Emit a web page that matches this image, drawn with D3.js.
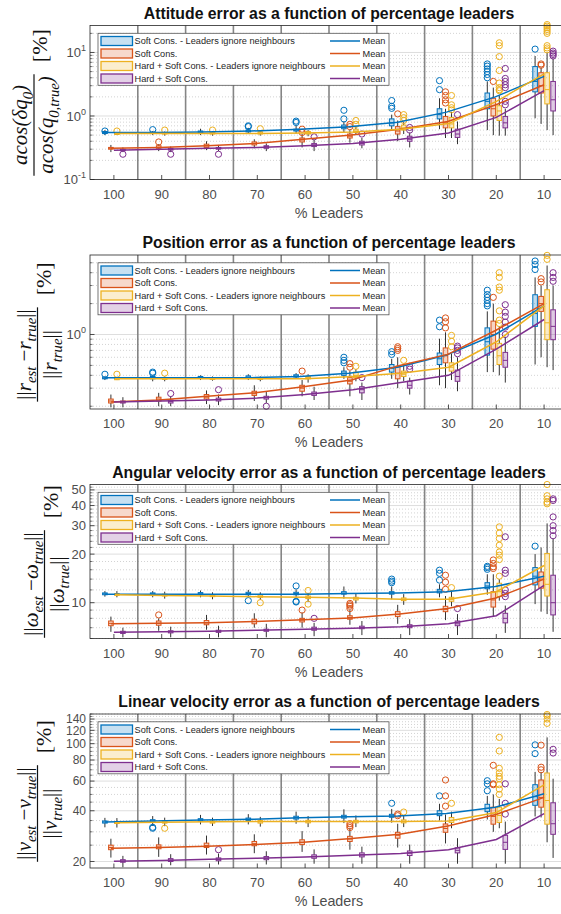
<!DOCTYPE html>
<html>
<head>
<meta charset="utf-8">
<script src="https://d3js.org/d3.v7.min.js"></script>
<style>
  html, body { margin:0; padding:0; background:#fff; overflow:hidden; }
  svg { display:block; }
</style>
</head>
<body>
<svg id="chart" width="561" height="914"></svg>
<script>
// ================= DATA =================
const categories = ["100","90","80","70","60","50","40","30","20","10"];
const seriesNames = [
  "Soft Cons. - Leaders ignore neighbours",
  "Soft Cons.",
  "Hard + Soft Cons. - Leaders ignore neighbours",
  "Hard + Soft Cons."
];
const seriesColors = ["#0072BD", "#D95319", "#EDB120", "#7E2F8E"];
const panelTitles = [
  "Attitude error as a function of percentage leaders",
  "Position error as a function of percentage leaders",
  "Angular velocity error as a function of percentage leaders",
  "Linear velocity error as a function of percentage leaders"
];
const xAxisLabel = "% Leaders";
const meanLabel = "Mean";

// ---- Panel 1 : attitude ----
const attDomain = [0.1, 26.6];
const attTicks = [0.1, 1, 10];
const attTickLabels = ["10^-1", "10^0", "10^1"];
const attMinor = [0.2,0.3,0.4,0.5,0.6,0.7,0.8,0.9,2,3,4,5,6,7,8,9,20];
const attMed = [
  [0.55,0.55,0.56,0.58,0.60,0.66,0.78,1.05,1.70,3.5],
  [0.31,0.32,0.34,0.37,0.42,0.48,0.58,0.78,1.30,3.0],
  [0.53,0.53,0.54,0.54,0.54,0.58,0.65,0.75,1.20,2.6],
  [0.29,0.30,0.31,0.33,0.35,0.37,0.43,0.52,0.78,1.8]];
const attQ1 = [
  [0.53,0.53,0.54,0.56,0.58,0.63,0.70,0.90,1.30,2.4],
  [0.30,0.31,0.32,0.35,0.39,0.45,0.52,0.65,1.00,2.3],
  [0.52,0.52,0.52,0.52,0.52,0.55,0.60,0.65,0.85,1.55],
  [0.285,0.29,0.30,0.31,0.33,0.35,0.40,0.46,0.65,1.2]];
const attQ3 = [
  [0.57,0.56,0.58,0.60,0.62,0.72,0.90,1.30,2.30,6.0],
  [0.32,0.34,0.36,0.39,0.45,0.52,0.68,0.98,1.90,4.8],
  [0.54,0.55,0.55,0.56,0.57,0.62,0.72,0.95,1.45,4.8],
  [0.30,0.31,0.32,0.34,0.37,0.40,0.48,0.62,0.98,3.5]];
const attLo = [
  [0.50,0.50,0.50,0.52,0.53,0.55,0.60,0.62,0.60,0.92],
  [0.27,0.28,0.29,0.31,0.32,0.38,0.40,0.45,0.50,0.75],
  [0.50,0.49,0.49,0.49,0.48,0.50,0.52,0.45,0.49,0.60],
  [0.27,0.27,0.28,0.28,0.28,0.31,0.32,0.36,0.49,0.50]];
const attHi = [
  [0.60,0.58,0.63,0.65,0.70,0.82,1.05,1.90,3.50,8.8],
  [0.35,0.36,0.40,0.43,0.52,0.60,0.85,1.30,2.80,5.8],
  [0.56,0.57,0.58,0.60,0.60,0.70,0.80,1.15,2.10,10],
  [0.32,0.33,0.35,0.37,0.42,0.45,0.55,0.82,1.30,8.0]];
const attMean = [
  [0.55,0.55,0.56,0.58,0.62,0.68,0.80,1.15,2.0,4.2],
  [0.31,0.32,0.34,0.37,0.43,0.50,0.62,0.82,1.5,3.1],
  [0.53,0.53,0.53,0.53,0.54,0.56,0.62,0.76,1.7,4.6],
  [0.29,0.30,0.31,0.32,0.34,0.37,0.43,0.54,0.95,2.5]];
const attOut = [
  [[0.58],[0.61],[],[0.68,0.70],[0.79,0.83],[0.90,1.23],[1.32,1.42,1.75],[2.6,3.6],[4.0,4.5,5.0,5.5,6.1,6.6],[11.3]],
  [[],[0.39],[],[],[0.55,0.62],[0.68,0.74],[1.08],[1.6,1.8,2.1,2.4],[3.5],[6.3,6.6]],
  [[0.58],[0.60],[0.60],[0.63],[],[0.74,0.85],[0.85,0.94,1.05],[1.25,1.35,1.5,2.1],[2.5,2.6,2.8,3.3,5.2,8.6,12.8,14.2],[11,11.8,12.8,20,21.5,23,24.5,26,27.5]],
  [[0.25],[0.25],[0.25],[],[0.47],[0.52],[0.60,0.66],[1.05],[1.5,1.7,2.8,3.1,3.5,3.9,5.6],[8.8,9.3,9.8,10.5]]];

// ---- Panel 2 : position ----
const posDomain = [0.188, 5.95];
const posTicks = [1];
const posTickLabels = ["10^0"];
const posMinor = [0.2,0.3,0.4,0.5,0.6,0.7,0.8,0.9,2,3,4,5];
const posMed = [
  [0.375,0.38,0.38,0.385,0.395,0.42,0.47,0.58,0.85,1.6],
  [0.225,0.235,0.245,0.265,0.30,0.35,0.42,0.62,1.0,2.0],
  [0.37,0.37,0.372,0.372,0.38,0.40,0.41,0.48,0.62,1.3],
  [0.22,0.222,0.232,0.242,0.265,0.29,0.32,0.39,0.56,1.2]];
const posQ1 = [
  [0.37,0.37,0.375,0.375,0.385,0.40,0.43,0.51,0.63,1.2],
  [0.215,0.225,0.235,0.255,0.28,0.33,0.37,0.53,0.72,1.68],
  [0.365,0.365,0.365,0.365,0.37,0.38,0.39,0.44,0.51,0.89],
  [0.215,0.215,0.225,0.235,0.255,0.27,0.30,0.35,0.48,0.89]];
const posQ3 = [
  [0.385,0.39,0.39,0.395,0.405,0.44,0.51,0.66,1.16,2.44],
  [0.235,0.245,0.26,0.28,0.32,0.38,0.49,0.74,1.35,2.35],
  [0.375,0.38,0.38,0.38,0.39,0.43,0.44,0.53,0.82,2.73],
  [0.225,0.23,0.24,0.25,0.275,0.31,0.35,0.45,0.67,1.74]];
const posLo = [
  [0.36,0.35,0.36,0.36,0.37,0.37,0.37,0.32,0.43,0.51],
  [0.195,0.20,0.21,0.225,0.25,0.25,0.30,0.30,0.43,0.60],
  [0.36,0.35,0.355,0.35,0.34,0.35,0.35,0.36,0.40,0.48],
  [0.195,0.20,0.205,0.215,0.23,0.23,0.26,0.28,0.34,0.45]];
const posHi = [
  [0.39,0.40,0.40,0.41,0.42,0.48,0.58,0.91,1.68,3.6],
  [0.26,0.27,0.285,0.32,0.36,0.44,0.60,1.05,2.0,3.0],
  [0.385,0.39,0.39,0.39,0.41,0.46,0.50,0.65,1.2,4.7],
  [0.245,0.25,0.26,0.275,0.31,0.34,0.38,0.60,0.95,3.0]];
const posMean = [
  [0.38,0.38,0.38,0.38,0.39,0.42,0.48,0.63,1.0,1.9],
  [0.22,0.23,0.25,0.27,0.31,0.36,0.50,0.64,1.1,2.0],
  [0.37,0.37,0.37,0.37,0.37,0.39,0.42,0.48,0.85,1.9],
  [0.22,0.225,0.23,0.24,0.26,0.29,0.34,0.40,0.72,1.4]];
const posOut = [
  [[0.41],[0.42,0.43],[],[],[],[0.53,0.56,0.60],[0.64,0.68],[1.19,1.38],[1.9,2.0,2.15,2.3,2.45,2.7],[4.3,4.8,5.2]],
  [[],[],[],[],[0.44],[0.48,0.52],[0.70,0.73,0.76],[1.16,1.33,1.45],[2.3],[3.25,3.5]],
  [[0.41],[0.42],[],[],[],[0.49],[0.56],[0.76,0.86,0.98],[1.28,1.38,1.7,2.7,2.9,3.6,4.0],[5.4,5.9]],
  [[],[0.266],[0.29],[0.20],[],[0.38],[0.46,0.49],[0.65,0.70,0.74,0.77],[1.0,1.18,1.32,1.5,1.65,1.95],[3.3,3.6,4.0]]];

// ---- Panel 3 : angular velocity ----
const angDomain = [6, 54];
const angTicks = [10, 20, 30, 40, 50];
const angTickLabels = ["10", "20", "30", "40", "50"];
const angMinor = [6,7,8,9,12,14,16,18,22,24,26,28,32,34,36,38,42,44,46,48,52];
const angMed = [
  [11.35,11.35,11.35,11.4,11.4,11.45,11.5,11.8,12.7,14.6],
  [7.45,7.45,7.5,7.65,7.8,8.1,8.45,9.1,10.4,14.0],
  [11.25,11.15,11.05,11.0,10.8,10.6,10.5,10.5,11.7,13.0],
  [6.55,6.6,6.65,6.75,6.9,7.0,7.15,7.4,8.0,10.0]];
const angQ1 = [
  [11.2,11.2,11.2,11.2,11.2,11.3,11.3,11.5,12.2,12.9],
  [7.2,7.25,7.3,7.4,7.6,7.9,8.2,8.8,9.4,12.3],
  [11.1,11.0,10.9,10.8,10.6,10.4,10.3,10.2,10.9,11.0],
  [6.45,6.5,6.55,6.65,6.75,6.9,7.0,7.2,7.5,8.4]];
const angQ3 = [
  [11.5,11.5,11.55,11.6,11.6,11.7,11.7,12.1,13.3,16.5],
  [7.7,7.7,7.75,7.9,8.0,8.3,8.8,9.5,11.7,15.5],
  [11.4,11.3,11.2,11.2,11.0,10.8,10.7,10.8,13.2,20.2],
  [6.65,6.7,6.75,6.85,7.05,7.15,7.3,7.7,8.6,14.8]];
const angLo = [
  [10.9,10.8,10.8,10.8,10.6,10.6,10.5,10.8,11.2,9.8],
  [6.6,6.7,6.8,7.0,7.0,7.3,7.4,7.8,8.2,8.8],
  [10.8,10.6,10.5,10.4,10.1,9.9,9.7,9.5,10.3,8.5],
  [6.1,6.1,6.1,6.1,6.2,6.3,6.3,6.3,6.5,6.6]];
const angHi = [
  [11.8,11.8,11.9,12.0,12.1,12.6,12.6,13.0,15.0,20.0],
  [8.2,8.0,8.4,8.6,8.7,9.0,9.7,11.0,15.0,22.0],
  [11.8,11.7,11.6,11.6,11.5,11.4,11.3,11.9,14.0,31.0],
  [7.0,7.1,7.2,7.4,7.5,7.7,7.9,8.5,9.6,25.0]];
const angMean = [
  [11.3,11.3,11.3,11.3,11.3,11.4,11.5,11.7,12.6,14.6],
  [7.4,7.45,7.5,7.65,7.85,8.05,8.5,9.2,10.7,14.0],
  [11.2,11.1,11.0,10.9,10.8,10.7,10.5,10.5,11.7,17.0],
  [6.55,6.6,6.65,6.75,6.85,6.95,7.1,7.4,8.3,12.8]];
const angOut = [
  [[],[],[],[10.3],[10.1,10.2,12.7],[],[13.3,13.6,14.0],[13.8,15.2,15.9],[16.1,16.5,16.8],[22.4]],
  [[],[8.4],[],[],[9.0],[9.2,9.5,9.7,9.9],[],[12.1,13.4,14.8],[16.3,16.7,17.5,18.4],[]],
  [[],[],[],[10.0],[9.8,11.9],[],[],[12.4],[14.6,18.5,19.7,20.6,22.7,25,27,29.5],[41,42,44,46,54]],
  [[],[],[],[],[8.0],[],[],[9.2],[10.9,11.4,12,15.2,15.9,25.6],[26,28,30,34,43,44]]];

// ---- Panel 4 : linear velocity ----
const linDomain = [18.3, 150];
const linTicks = [20, 40, 60, 80, 100, 120, 140];
const linTickLabels = ["20", "40", "60", "80", "100", "120", "140"];
const linMinor = [25,30,35,45,50,55,65,70,75,85,90,95,105,110,115,125,130,135,145,150];
const linMed = [
  [34.3,34.8,35.3,35.6,36.4,36.9,37.3,38.5,41.3,48.5],
  [24.2,24.4,24.9,25.5,26.0,27.2,28.6,31.4,37.0,48.0],
  [34.0,34.2,34.3,34.4,34.5,34.5,34.6,35.0,37.5,46.0],
  [20.1,20.4,20.6,20.9,21.4,21.9,22.4,23.3,26.0,33.5]];
const linQ1 = [
  [33.8,34.2,34.8,35.0,35.7,36.2,36.6,37.4,39.5,43.1],
  [23.5,23.8,24.2,24.8,25.2,26.3,27.5,29.8,33.3,42.0],
  [33.6,33.8,33.8,33.8,33.9,33.9,33.9,34.1,34.1,33.3],
  [19.8,20.0,20.2,20.5,20.9,21.3,21.7,22.5,23.6,29.0]];
const linQ3 = [
  [34.8,35.4,35.9,36.2,37.1,37.6,38.1,40.0,43.7,57.1],
  [25.0,25.1,25.7,26.3,26.9,28.2,29.8,33.4,42.0,60.9],
  [34.5,34.7,34.8,35.0,35.1,35.1,35.3,36.5,42.0,67.0],
  [20.5,20.8,21.0,21.4,21.9,22.5,23.1,24.1,28.6,44.6]];
const linLo = [
  [31.9,32.5,33.2,33.2,33.5,33.8,34.0,35.0,35.5,37.0],
  [21.1,21.3,22.0,22.4,22.8,23.5,24.2,25.6,30.0,36.5],
  [31.8,32.4,32.5,32.2,32.0,32.0,32.0,31.5,31.5,26.0],
  [18.5,19.0,19.2,19.2,19.4,19.4,19.4,19.4,19.4,21.0]];
const linHi = [
  [36.3,37.2,37.8,38.2,39.5,40.8,41.0,44.0,49.0,68.0],
  [27.3,27.8,28.5,29.0,30.3,31.5,33.5,38.0,50.0,68.0],
  [36.2,36.4,36.4,36.8,37.2,37.5,37.6,39.5,47.0,109.0],
  [21.6,22.1,22.3,23.0,23.6,24.5,25.2,27.5,34.5,62.0]];
const linMean = [
  [34.3,34.8,35.2,35.6,36.3,36.8,37.2,38.5,42.0,50.5],
  [24.0,24.2,24.6,25.2,26.0,27.4,29.0,32.5,38.0,48.0],
  [34.0,34.2,34.4,34.5,34.5,34.5,34.5,34.8,39.0,57.0],
  [20.1,20.3,20.6,20.9,21.3,21.8,22.3,23.5,27.0,38.5]];
const linOut = [
  [[],[31.5,31.9],[],[],[],[],[44.3],[49.0],[52.6,57.8,60.3],[87.3,98.4]],
  [[],[],[],[],[],[31.8,32.6,33.5],[37.4,38.2],[42.6,49,60.9],[57.1,57.8,74.4],[70,72.5,98]],
  [[],[31.5],[],[],[],[],[39.3],[44.3],[50,53.8,57.1,61.9,64,67.1,71.4,90.5,109],[132,140,146,149]],
  [[],[],[23.5],[],[],[],[],[],[38.2,44.3,57.8],[88.0,92.6]]];

// y-label parts: [text, kind]  kind: "i" italic, "s" subscript italic, "u" upright
const yNum = [
  [["acos(","i"],["δ","i"],["q","i"],["0","s"],[")","i"]],
  [["||","u"],["r","i"],["est","s"],[" −","u"],["r","i"],["true","s"],["||","u"]],
  [["||","u"],["ω","i"],["est","s"],[" −","u"],["ω","i"],["true","s"],["||","u"]],
  [["||","u"],["v","i"],["est","s"],[" −","u"],["v","i"],["true","s"],["||","u"]]];
const yDen = [
  [["acos(","i"],["q","i"],["0,true","s"],[")","i"]],
  [["||","u"],["r","i"],["true","s"],["||","u"]],
  [["||","u"],["ω","i"],["true","s"],["||","u"]],
  [["||","u"],["v","i"],["true","s"],["||","u"]]];
const yUnit = "[%]";

// ================= LAYOUT / STYLE =================
const FONT = "'Liberation Sans', Arial, Helvetica, sans-serif";
const SERIF = "'Liberation Serif', 'Times New Roman', serif";
const AX_COL = "#262626";
const panelTops = [25.5, 255, 484.5, 714];
const plotH = 154;
const plotL = 90, plotR = 568;
const seriesOffset = [-9, -3, 3, 9];
const meanStartOffset = [-9, -3, 1, 0];
const boxW = 4.6;
const yLabelX = [34, 37.5, 44.5, 37.5];
const yTickFont = [13, 13, 13, 12];

const panels = [
  {domain: attDomain, ticks: attTicks, labels: attTickLabels, minor: attMinor, med: attMed, q1: attQ1, q3: attQ3, lo: attLo, hi: attHi, mean: attMean, out: attOut},
  {domain: posDomain, ticks: posTicks, labels: posTickLabels, minor: posMinor, med: posMed, q1: posQ1, q3: posQ3, lo: posLo, hi: posHi, mean: posMean, out: posOut},
  {domain: angDomain, ticks: angTicks, labels: angTickLabels, minor: angMinor, med: angMed, q1: angQ1, q3: angQ3, lo: angLo, hi: angHi, mean: angMean, out: angOut},
  {domain: linDomain, ticks: linTicks, labels: linTickLabels, minor: linMinor, med: linMed, q1: linQ1, q3: linQ3, lo: linLo, hi: linHi, mean: linMean, out: linOut}
];

const svg = d3.select("#chart");
const x = d3.scaleLinear().domain([0.5, 10.5]).range([plotL, plotR]);
const catIdx = d3.range(1, categories.length + 1);

function addRich(textSel, parts, size) {
  let shift = 0;
  parts.forEach(([s, kind]) => {
    const target = kind === "s" ? size * 0.28 : 0;
    const t = textSel.append("tspan").text(s).attr("dy", target - shift);
    shift = target;
    if (kind === "s") t.attr("font-size", size * 0.7).attr("font-style", "italic");
    else if (kind === "u") t.attr("font-style", "normal");
    else t.attr("font-style", "italic");
  });
}

panels.forEach((p, pi) => {
  const top = panelTops[pi], bot = top + plotH;
  const y = d3.scaleLog().domain(p.domain).range([bot, top]);
  const g = svg.append("g");

  // grid: minor (dotted) then major (solid)
  g.append("g").selectAll("line").data(p.minor).join("line")
    .attr("x1", plotL).attr("x2", plotR)
    .attr("y1", d => y(d)).attr("y2", d => y(d))
    .attr("stroke", "#c8c8c8").attr("stroke-width", 0.8).attr("stroke-dasharray", "1,2");
  g.append("g").selectAll("line").data(p.ticks).join("line")
    .attr("x1", plotL).attr("x2", plotR)
    .attr("y1", d => y(d)).attr("y2", d => y(d))
    .attr("stroke", "#dedede").attr("stroke-width", 1);

  // group separators
  g.append("g").selectAll("line").data(catIdx.slice(0, -1)).join("line")
    .attr("x1", d => x(d + 0.5)).attr("x2", d => x(d + 0.5))
    .attr("y1", top).attr("y2", bot)
    .attr("stroke", "#858585").attr("stroke-width", 1.6);

  // boxes
  seriesColors.forEach((col, s) => {
    const sg = g.append("g");
    catIdx.forEach((c, i) => {
      const cx = x(c) + seriesOffset[s];
      sg.append("line").attr("x1", cx).attr("x2", cx)
        .attr("y1", y(p.hi[s][i])).attr("y2", y(p.q3[s][i]))
        .attr("stroke", "#333").attr("stroke-width", 1);
      sg.append("line").attr("x1", cx).attr("x2", cx)
        .attr("y1", y(p.q1[s][i])).attr("y2", y(p.lo[s][i]))
        .attr("stroke", "#333").attr("stroke-width", 1);
      const yt = y(p.q3[s][i]), yb = y(p.q1[s][i]);
      sg.append("rect").attr("x", cx - boxW / 2).attr("y", yt)
        .attr("width", boxW).attr("height", Math.max(yb - yt, 1.5))
        .attr("fill", d3.color(col).copy({opacity: 0.25}))
        .attr("stroke", col).attr("stroke-width", 1);
      sg.append("line").attr("x1", cx - boxW / 2).attr("x2", cx + boxW / 2)
        .attr("y1", y(p.med[s][i])).attr("y2", y(p.med[s][i]))
        .attr("stroke", col).attr("stroke-width", 1);
      sg.selectAll(null).data(p.out[s][i]).join("circle")
        .attr("cx", cx).attr("cy", d => y(d)).attr("r", 3.1)
        .attr("fill", "none").attr("stroke", col).attr("stroke-width", 1);
    });
  });

  // mean lines
  seriesColors.forEach((col, s) => {
    const line = d3.line()
      .x((d, i) => x(catIdx[i]) + meanStartOffset[s] * (9 - i) / 9)
      .y(d => y(d));
    g.append("path").datum(p.mean[s]).attr("d", line)
      .attr("fill", "none").attr("stroke", col).attr("stroke-width", 1.5);
  });

  // axes box
  g.append("rect").attr("x", plotL).attr("y", top).attr("width", plotR - plotL).attr("height", plotH)
    .attr("fill", "none").attr("stroke", AX_COL).attr("stroke-width", 0.8);
  g.append("g").selectAll("line").data(p.ticks).join("line")
    .attr("x1", plotL).attr("x2", plotL + 4.5).attr("y1", d => y(d)).attr("y2", d => y(d))
    .attr("stroke", AX_COL).attr("stroke-width", 0.8);
  g.append("g").selectAll("line").data(p.minor).join("line")
    .attr("x1", plotL).attr("x2", plotL + 2.5).attr("y1", d => y(d)).attr("y2", d => y(d))
    .attr("stroke", AX_COL).attr("stroke-width", 0.6);
  g.append("g").selectAll("line").data(catIdx).join("line")
    .attr("x1", d => x(d)).attr("x2", d => x(d)).attr("y1", bot).attr("y2", bot - 4.5)
    .attr("stroke", AX_COL).attr("stroke-width", 0.8);

  // y tick labels
  const tf = yTickFont[pi];
  p.ticks.forEach((t, k) => {
    const lab = p.labels[k];
    const txt = g.append("text").attr("x", 86).attr("y", y(t) + tf * 0.35)
      .attr("text-anchor", "end").attr("font-family", FONT).attr("font-size", tf)
      .attr("fill", "#4d4d4d");
    if (lab.includes("^")) {
      const [b, e] = lab.split("^");
      txt.append("tspan").text(b);
      txt.append("tspan").text(e).attr("font-size", 9).attr("dy", -6);
    } else txt.text(lab);
  });
  // x tick labels
  g.append("g").selectAll("text").data(categories).join("text")
    .attr("x", (d, i) => x(catIdx[i])).attr("y", bot + 19)
    .attr("text-anchor", "middle").attr("font-family", FONT).attr("font-size", 13)
    .attr("fill", "#4d4d4d").text(d => d);
  g.append("text").attr("x", x(5.5)).attr("y", bot + 38)
    .attr("text-anchor", "middle").attr("font-family", FONT).attr("font-size", 14.3)
    .attr("fill", "#4d4d4d").text(xAxisLabel);
  g.append("text").attr("x", x(5.5)).attr("y", top - 7)
    .attr("text-anchor", "middle").attr("font-family", FONT).attr("font-size", 15.8)
    .attr("font-weight", "bold").attr("fill", "#111").text(panelTitles[pi]);

  // y label (rotated fraction + unit)
  const cy = (top + bot) / 2;
  const yl = g.append("g").attr("transform", `translate(${yLabelX[pi]},${cy}) rotate(-90)`)
    .attr("font-family", SERIF).attr("fill", "#111");
  const fs = 21;
  const num = yl.append("text").attr("font-size", fs).attr("text-anchor", "middle");
  addRich(num, yNum[pi], fs);
  const den = yl.append("text").attr("font-size", fs).attr("text-anchor", "middle");
  addRich(den, yDen[pi], fs);
  const unit = yl.append("text").attr("font-size", 22).attr("text-anchor", "middle").text(yUnit);
  const fracW = Math.max(num.node().getComputedTextLength(), den.node().getComputedTextLength()) + 4;
  const unitW = unit.node().getComputedTextLength();
  const gap = 12;
  const total = fracW + gap + unitW;
  const fx = -total / 2 + fracW / 2;
  num.attr("x", fx).attr("y", -7);
  den.attr("x", fx).attr("y", 19);
  yl.append("line").attr("x1", fx - fracW / 2).attr("x2", fx + fracW / 2).attr("y1", 0).attr("y2", 0)
    .attr("stroke", "#111").attr("stroke-width", 1.2);
  unit.attr("x", total / 2 - unitW / 2).attr("y", 13);

  // legend
  const lg = g.append("g").attr("transform", `translate(98,${top + 7.8})`);
  lg.append("rect").attr("x", 0).attr("y", 0).attr("width", 291).attr("height", 52)
    .attr("fill", "#fff").attr("stroke", "#555").attr("stroke-width", 0.8);
  seriesNames.forEach((nm, s) => {
    const ry = 7.7 + s * 12.5;
    lg.append("rect").attr("x", 3).attr("y", ry - 4.5).attr("width", 31.5).attr("height", 9)
      .attr("fill", d3.color(seriesColors[s]).copy({opacity: 0.22}))
      .attr("stroke", seriesColors[s]).attr("stroke-width", 1.3);
    lg.append("text").attr("x", 36.5).attr("y", ry + 3.2).attr("font-family", FONT)
      .attr("font-size", 9.2).attr("fill", "#262626").text(nm);
    lg.append("line").attr("x1", 232).attr("x2", 262).attr("y1", ry).attr("y2", ry)
      .attr("stroke", seriesColors[s]).attr("stroke-width", 1.5);
    lg.append("text").attr("x", 264.5).attr("y", ry + 3.2).attr("font-family", FONT)
      .attr("font-size", 9.2).attr("fill", "#262626").text(meanLabel);
  });
});
</script>
</body>
</html>
